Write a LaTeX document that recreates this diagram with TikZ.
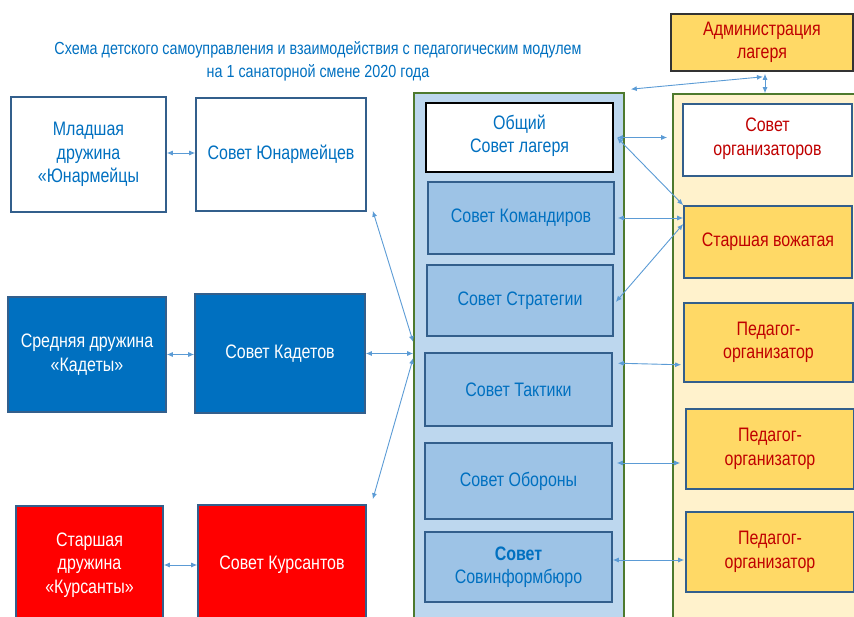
\documentclass[tikz,border=0pt]{standalone}
\usepackage{fontspec}
\setmainfont{Liberation Sans}[FakeStretch=0.82]
\usepackage{tikz}
\usetikzlibrary{arrows.meta}

\definecolor{titleblue}{HTML}{0070C0}
\definecolor{boxline}{HTML}{335F8C}
\definecolor{darkfill}{HTML}{0070C0}
\definecolor{redfill}{HTML}{FF0000}
\definecolor{colfill}{HTML}{BDD7EE}
\definecolor{councilfill}{HTML}{9DC3E6}
\definecolor{colline}{HTML}{4E7A2E}
\definecolor{creamfill}{HTML}{FFF2CC}
\definecolor{goldfill}{HTML}{FFD966}
\definecolor{redtext}{HTML}{C00000}
\definecolor{linkcol}{HTML}{5B9BD5}

\begin{document}
\begin{tikzpicture}[x=1pt, y=-1pt,
    unit/.style={rectangle, draw=boxline, line width=1.6pt, fill=white, align=center, text=titleblue, font=\fontsize{19.5}{23.5}\selectfont, inner sep=2pt},
    dark/.style={unit, fill=darkfill, text=white},
    redunit/.style={unit, fill=redfill, text=white},
    council/.style={unit, fill=councilfill},
    staff/.style={unit, fill=goldfill, text=redtext},
    column/.style={rectangle, draw=colline, line width=1.6pt},
    link/.style={{Latex[length=6pt,width=5pt]}-{Latex[length=6pt,width=5pt]}, draw=linkcol, line width=0.9pt}
]
\clip (0,0) rectangle (854,617);

\node[text=titleblue, align=center, font=\fontsize{17.5}{23}\selectfont] (title) at (318,61) {Схема детского самоуправления и взаимодействия с педагогическим модулем\\на 1 санаторной смене 2020 года};

% left side: squads and their councils
\node[unit, minimum width=155, minimum height=115] (mlad) at (88.5,154.5) {Младшая\\дружина\\«Юнармейцы};
\node[unit, minimum width=170, minimum height=113] (yunarm) at (281,154.5) {Совет Юнармейцев};
\node[dark, minimum width=158, minimum height=115] (sred) at (87,354.5) {Средняя дружина\\«Кадеты»};
\node[dark, minimum width=170, minimum height=119] (kadet) at (280,353.5) {Совет Кадетов};
\node[redunit, minimum width=147, minimum height=118] (starsh) at (89.5,565) {Старшая\\дружина\\«Курсанты»};
\node[redunit, minimum width=168, minimum height=120] (kursant) at (282,565) {Совет Курсантов};

% camp councils column
\node[column, fill=colfill, minimum width=210, minimum height=567] (leftcol) at (519,376.5) {};
\node[unit, draw=black, line width=2pt, minimum width=187, minimum height=69, text depth=7pt] (obsh) at (519.5,137.5) {Общий\\Совет лагеря};
\node[council, minimum width=186, minimum height=72] (komand) at (521,218) {Совет Командиров};
\node[council, minimum width=186, minimum height=71] (strateg) at (520,300.5) {Совет Стратегии};
\node[council, minimum width=187, minimum height=73] (taktik) at (518.5,389.5) {Совет Тактики};
\node[council, minimum width=187, minimum height=76] (oborona) at (518.5,481) {Совет Обороны};
\node[council, minimum width=187, minimum height=70] (sovinf) at (518.5,567) {\textbf{Совет}\\Совинформбюро};

% staff column
\node[column, fill=creamfill, minimum width=207, minimum height=566] (rightcol) at (776.5,377) {};
\node[staff, draw=black!80, minimum width=182, minimum height=57] (admin) at (762,42.5) {Администрация\\лагеря};
\node[unit, text=redtext, minimum width=169, minimum height=72, text depth=7pt] (orgsov) at (767.5,140) {Совет\\организаторов};
\node[staff, minimum width=168, minimum height=72] (vozhat) at (768,242) {Старшая вожатая};
\node[staff, minimum width=169, minimum height=79] (ped1) at (768.5,342.5) {Педагог-\\организатор};
\node[staff, minimum width=168, minimum height=80] (ped2) at (770,449) {Педагог-\\организатор};
\node[staff, minimum width=168, minimum height=80] (ped3) at (770,552) {Педагог-\\организатор};

% links
\draw[link] ([yshift=1.5pt]mlad.east) -- ([yshift=1.5pt]yunarm.west);
\draw[link] (sred.east) -- (sred.east -| kadet.west);
\draw[link] (starsh.east) -- (starsh.east -| kursant.west);

\draw[link] ([xshift=6pt,yshift=1pt]yunarm.south east) -- ([yshift=11.5pt]kadet.east -| leftcol.west);
\draw[link] (kadet.east) -- (kadet.east -| leftcol.west);
\draw[link] ([xshift=6pt,yshift=5pt]kursant.north east) -- ([yshift=-4.5pt]kadet.east -| leftcol.west);

\draw[link] ([xshift=6pt,yshift=3pt]leftcol.north east) -- ([xshift=1pt,yshift=-5pt]admin.south);
\draw[link] ([xshift=3pt,yshift=-2pt]admin.south) -- ([xshift=3pt]admin.south |- rightcol.north);

\draw[link] ([xshift=3pt]obsh.east) -- ([xshift=-5pt]obsh.east -| rightcol.west);
\draw[link] ([xshift=3pt]obsh.east) -- (vozhat.north west);
\draw[link] ([xshift=3pt]komand.east) -- (komand.east -| vozhat.west);
\draw[link] ([xshift=2pt,yshift=-1.5pt]strateg.east) -- ([yshift=18pt]vozhat.west);
\draw[link] ([xshift=5pt,yshift=-11pt]taktik.north east) -- ([xshift=-2pt,yshift=18pt]ped1.south west);
\draw[link] ([xshift=4pt,yshift=18pt]oborona.east) -- ([xshift=-5pt,yshift=-14pt]ped2.west);
\draw[link] ([yshift=7pt]sovinf.east) -- ([xshift=-1pt,yshift=-8pt]ped3.west);
\end{tikzpicture}
\end{document}
